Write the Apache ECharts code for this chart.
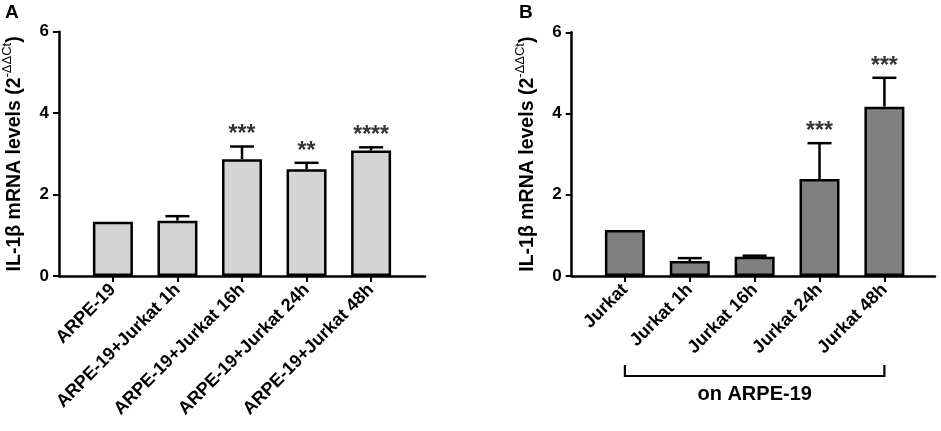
<!DOCTYPE html>
<html>
<head>
<meta charset="utf-8">
<script src="https://cdn.jsdelivr.net/npm/echarts@6/dist/echarts.min.js"></script>
<style>html,body{margin:0;padding:0;background:#fff}#c{width:941px;height:431px}</style>
</head>
<body>
<div id="c"></div>
<script>
const categoriesA = ['ARPE-19', 'ARPE-19+Jurkat 1h', 'ARPE-19+Jurkat 16h', 'ARPE-19+Jurkat 24h', 'ARPE-19+Jurkat 48h'];
const meansA = [1.33, 1.36, 2.87, 2.62, 3.08];
const errA = [0, 0.11, 0.31, 0.16, 0.08];
const starsA = ['', '', '***', '**', '****'];

const categoriesB = ['Jurkat', 'Jurkat 1h', 'Jurkat 16h', 'Jurkat 24h', 'Jurkat 48h'];
const meansB = [1.13, 0.37, 0.475, 2.39, 4.17];
const errB = [0, 0.07, 0.025, 0.88, 0.71];
const starsB = ['', '', '', '***', '***'];

const yTicks = [0, 2, 4, 6];
const groupLabelB = 'on ARPE-19';

const FONT = '"Liberation Sans", Arial, sans-serif';
const idx = [0, 1, 2, 3, 4];

function xAxisFor(cats, min, max, gi) {
  return {
    type: 'value', gridIndex: gi, min: min, max: max,
    splitLine: { show: false },
    axisLine: { show: true, onZero: false, lineStyle: { color: '#000', width: 2.5 } },
    axisTick: { show: true, customValues: idx, length: 6, lineStyle: { color: '#000', width: 2 } },
    axisLabel: {
      customValues: idx, rotate: 45, margin: 11,
      formatter: v => cats[Math.round(v)],
      color: '#000', fontWeight: 'bold', fontSize: 18, fontFamily: FONT
    }
  };
}
function yAxisFor(gi) {
  return {
    type: 'value', gridIndex: gi, min: yTicks[0], max: yTicks[yTicks.length - 1], interval: 2,
    splitLine: { show: false },
    axisLine: { show: true, onZero: false, lineStyle: { color: '#000', width: 2.5 } },
    axisTick: { show: true, length: 6, lineStyle: { color: '#000', width: 2 } },
    axisLabel: { color: '#000', fontWeight: 'bold', fontSize: 17, fontFamily: FONT, margin: 10 },
    name: '{a|IL-1β mRNA levels (2}{s|-ΔΔCt}{a|)}',
    nameLocation: 'middle', nameRotate: 90, nameGap: 34,
    nameTextStyle: {
      rich: {
        a: { fontSize: 19.5, fontWeight: 'bold', color: '#000', fontFamily: FONT, lineHeight: 24, verticalAlign: 'bottom' },
        s: { fontSize: 13, color: '#000', fontFamily: FONT, lineHeight: 24, verticalAlign: 'top' }
      }
    }
  };
}
function barSeries(means, color, gi) {
  return {
    type: 'bar', xAxisIndex: gi, yAxisIndex: gi, barWidth: 40,
    data: means.map((m, i) => [i, m]),
    itemStyle: { color: color, borderColor: '#000', borderWidth: 2.5 },
    z: 2
  };
}
function errSeries(means, errs, gi) {
  return {
    type: 'custom', xAxisIndex: gi, yAxisIndex: gi, z: 3,
    data: means.map((m, i) => [i, m, errs[i]]),
    renderItem: function (params, api) {
      const x = api.value(0), m = api.value(1), e = api.value(2);
      if (!e) return;
      const p0 = api.coord([x, m]);
      const p1 = api.coord([x, m + e]);
      const st = { stroke: '#000', lineWidth: 2.5 };
      return {
        type: 'group', children: [
          { type: 'line', shape: { x1: p0[0], y1: p0[1], x2: p1[0], y2: p1[1] }, style: st },
          { type: 'line', shape: { x1: p1[0] - 12, y1: p1[1], x2: p1[0] + 12, y2: p1[1] }, style: st }
        ]
      };
    }
  };
}
function starSeries(means, errs, stars, gi) {
  return {
    type: 'scatter', xAxisIndex: gi, yAxisIndex: gi, symbolSize: 0, z: 4,
    data: means.map((m, i) => [i, m + errs[i]]),
    label: {
      show: true, position: 'top', distance: 0,
      formatter: p => stars[p.dataIndex],
      color: '#000', fontSize: 23, fontWeight: 'bold', fontFamily: FONT
    }
  };
}

const chart = echarts.init(document.getElementById('c'), null, { renderer: 'canvas' });
chart.setOption({
  animation: false,
  backgroundColor: '#fff',
  grid: [
    { left: 58, top: 31.7, width: 367, height: 244.3 },
    { left: 571.7, top: 32.3, width: 363.3, height: 243.7 }
  ],
  xAxis: [xAxisFor(categoriesA, -0.835, 4.835, 0), xAxisFor(categoriesB, -0.82, 4.78, 1)],
  yAxis: [yAxisFor(0), yAxisFor(1)],
  series: [
    barSeries(meansA, '#d4d4d4', 0), errSeries(meansA, errA, 0), starSeries(meansA, errA, starsA, 0),
    barSeries(meansB, '#808080', 1), errSeries(meansB, errB, 1), starSeries(meansB, errB, starsB, 1)
  ]
});

const pL = chart.convertToPixel({ xAxisIndex: 1, yAxisIndex: 1 }, [0, 0]);
const pR = chart.convertToPixel({ xAxisIndex: 1, yAxisIndex: 1 }, [4, 0]);
chart.setOption({
  graphic: [
    { type: 'text', left: 5, top: 3, style: { text: 'A', fontSize: 19, fontWeight: 'bold', fill: '#000', fontFamily: FONT } },
    { type: 'text', left: 519, top: 3, style: { text: 'B', fontSize: 19, fontWeight: 'bold', fill: '#000', fontFamily: FONT } },
    { type: 'polyline', shape: { points: [[pL[0], 365], [pL[0], 376], [pR[0], 376], [pR[0], 365]] }, style: { stroke: '#000', lineWidth: 2.2, fill: null } },
    { type: 'text', x: (pL[0] + pR[0]) / 2, y: 394, style: { text: groupLabelB, fontSize: 20, fontWeight: 'bold', fill: '#000', fontFamily: FONT, align: 'center', verticalAlign: 'middle' } }
  ]
});
</script>
</body>
</html>
